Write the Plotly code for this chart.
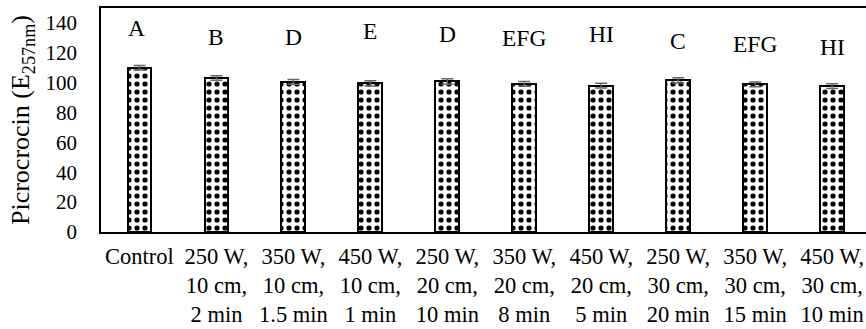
import plotly.graph_objects as go

# Treatments (microwave power, distance, time) and picrocrocin content
categories = [
    "Control",
    "250 W,<br>10 cm,<br>2 min",
    "350 W,<br>10 cm,<br>1.5 min",
    "450 W,<br>10 cm,<br>1 min",
    "250 W,<br>20 cm,<br>10 min",
    "350 W,<br>20 cm,<br>8 min",
    "450 W,<br>20 cm,<br>5 min",
    "250 W,<br>30 cm,<br>20 min",
    "350 W,<br>30 cm,<br>15 min",
    "450 W,<br>30 cm,<br>10 min",
]
values = [110.0, 103.2, 100.5, 99.5, 100.8, 99.2, 98.0, 101.5, 98.8, 97.7]
errors = [1.5, 1.5, 1.6, 1.8, 1.8, 1.6, 1.6, 1.8, 1.6, 1.6]
letters = ["A", "B", "D", "E", "D", "EFG", "HI", "C", "EFG", "HI"]
letter_y = [136.8, 130.4, 130.4, 134.4, 132.4, 129.8, 132.4, 127.8, 126.1, 124.1]

FONT = "Liberation Serif"
x_idx = list(range(len(categories)))

fig = go.Figure()
fig.add_trace(go.Bar(
    x=x_idx,
    y=values,
    width=0.31,
    marker=dict(
        color="white",
        line=dict(color="black", width=2),
        pattern=dict(shape=".", fgcolor="black", bgcolor="white",
                     fgopacity=1, size=8, solidity=0.33, fillmode="replace"),
    ),
    error_y=dict(type="data", array=errors, visible=True,
                 color="#666666", thickness=1.5, width=6),
    showlegend=False,
))

for i, (lab, ly) in enumerate(zip(letters, letter_y)):
    fig.add_annotation(
        x=i, y=ly, text=lab, showarrow=False,
        xshift=-3 if i == 0 else 0,
        font=dict(family=FONT, size=23.5, color="black"),
    )

fig.update_layout(
    width=866, height=329,
    margin=dict(l=101, r=0, t=8, b=97),
    paper_bgcolor="white", plot_bgcolor="white",
    font=dict(family=FONT, color="black"),
    bargap=0,
)
fig.update_xaxes(
    tickmode="array", tickvals=x_idx, ticktext=categories,
    range=[-0.5, 9.44], tickangle=0,
    tickfont=dict(family=FONT, size=22.5, color="black"),
    showline=True, linecolor="black", linewidth=1.5, mirror=True,
    ticks="", showgrid=False, zeroline=False, ticklabelstandoff=3,
)
fig.update_yaxes(
    range=[0, 150], tickvals=[0, 20, 40, 60, 80, 100, 120, 140],
    tickfont=dict(family=FONT, size=21, color="black"),
    showline=True, linecolor="black", linewidth=1.5,
    ticks="", showgrid=False, zeroline=False, ticklabelstandoff=18,
    title=dict(text="Picrocrocin (E<sub>257nm</sub>)",
               font=dict(family=FONT, size=26, color="black"), standoff=8),
)

fig.write_html("out.html")
